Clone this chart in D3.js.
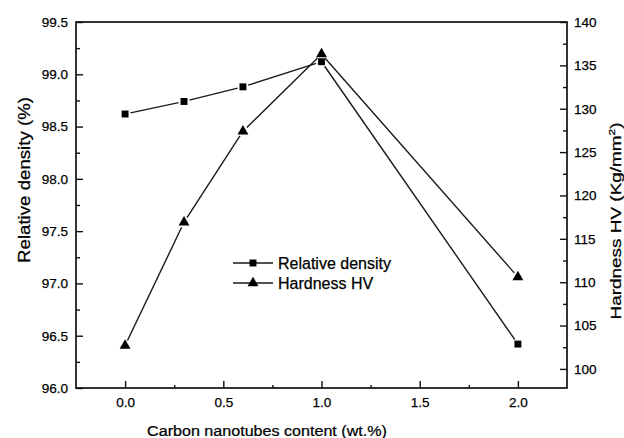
<!DOCTYPE html>
<html>
<head>
<meta charset="utf-8">
<script src="https://cdn.jsdelivr.net/npm/d3@7"></script>
<style>
  body { margin: 0; background: #fff; }
  svg { display: block; font-family: "Liberation Sans", Arial, sans-serif; }
  svg text { fill: #000; stroke: #000; stroke-width: 0.25px; }
  .tick text { font-size: 13.5px; }
</style>
</head>
<body>
<svg id="chart" width="624" height="438"></svg>
<script>
// CNT content (wt.%)
var content = [0.0, 0.3, 0.6, 1.0, 2.0];
// relative density (%), left axis
var density = [98.62, 98.74, 98.88, 99.12, 96.42];
// Vickers hardness (Kg/mm2), right axis
var hardness = [102.7, 116.9, 127.4, 136.3, 110.6];

var xTicks = [0, 0.5, 1.0, 1.5, 2.0];
var yLeftTicks = [96.0, 96.5, 97.0, 97.5, 98.0, 98.5, 99.0, 99.5];
var yRightTicks = [100, 105, 110, 115, 120, 125, 130, 135, 140];
var legendNames = ["Relative density", "Hardness HV"];

(function () {
  var svg = d3.select("#chart");
  var pLeft = 76, pRight = 567, pTop = 22, pBottom = 388;

  var x = d3.scaleLinear().domain([-0.25, 2.25]).range([pLeft, pRight]);
  var yL = d3.scaleLinear().domain([96, 99.5]).range([pBottom, pTop]);
  var yR = d3.scaleLinear().domain([97.8, 140]).range([pBottom, pTop]);

  // minor tick values half way between majors
  function minors(ticks) {
    var out = [];
    for (var i = 0; i < ticks.length - 1; i++) out.push((ticks[i] + ticks[i + 1]) / 2);
    return out;
  }

  function drawAxis(axis, tr) {
    var g = svg.append("g").attr("transform", tr).call(axis);
    g.select(".domain").remove();
    g.selectAll("line").attr("stroke", "#111").attr("stroke-width", 1.4);
    return g;
  }

  // bottom axis
  drawAxis(d3.axisBottom(x).tickValues(xTicks).tickFormat(d3.format(".1f"))
    .tickSizeInner(-7).tickPadding(9), "translate(0," + pBottom + ")");
  drawAxis(d3.axisBottom(x).tickValues(minors(xTicks)).tickFormat("")
    .tickSizeInner(-3), "translate(0," + pBottom + ")");

  // left axis
  drawAxis(d3.axisLeft(yL).tickValues(yLeftTicks).tickFormat(d3.format(".1f"))
    .tickSizeInner(-7).tickPadding(8), "translate(" + pLeft + ",0)");
  drawAxis(d3.axisLeft(yL).tickValues(minors(yLeftTicks)).tickFormat("")
    .tickSizeInner(-4), "translate(" + pLeft + ",0)");

  // right axis
  drawAxis(d3.axisRight(yR).tickValues(yRightTicks).tickFormat(d3.format("d"))
    .tickSizeInner(-7).tickPadding(7), "translate(" + pRight + ",0)");
  drawAxis(d3.axisRight(yR).tickValues(minors(yRightTicks)).tickFormat("")
    .tickSizeInner(-4), "translate(" + pRight + ",0)");

  // frame
  svg.append("rect")
    .attr("x", pLeft).attr("y", pTop)
    .attr("width", pRight - pLeft).attr("height", pBottom - pTop)
    .attr("fill", "none").attr("stroke", "#111").attr("stroke-width", 1.7);

  // axis titles, stretched to the lengths seen in the picture
  function fitTitle(sel, len) {
    return len / sel.node().getComputedTextLength();
  }

  var xt = svg.append("text")
    .attr("text-anchor", "middle")
    .style("font-size", "15.5px")
    .text("Carbon nanotubes content (wt.%)");
  xt.attr("transform", "translate(267,436) scale(" + fitTitle(xt, 240) + ",1)");

  var ylt = svg.append("text")
    .attr("text-anchor", "middle")
    .style("font-size", "16px")
    .text("Relative density (%)");
  ylt.attr("transform", "translate(30,180) rotate(-90) scale(" + fitTitle(ylt, 166) + ",1)");

  var yrt = svg.append("text")
    .attr("text-anchor", "middle")
    .style("font-size", "14.5px");
  yrt.append("tspan").text("Hardness HV (Kg/mm");
  yrt.append("tspan").attr("dy", -6).style("font-size", "9px").text("2");
  yrt.append("tspan").attr("dy", 6).text(")");
  yrt.attr("transform", "translate(621,221) rotate(-90) scale(" + fitTitle(yrt, 197) + ",1)");

  // data lines, with the small gaps around markers
  var gap = 5.5;
  function gappedSegments(xs, ys, yScale) {
    var segs = [];
    for (var i = 0; i < xs.length - 1; i++) {
      var x1 = x(xs[i]), y1 = yScale(ys[i]), x2 = x(xs[i + 1]), y2 = yScale(ys[i + 1]);
      var dx = x2 - x1, dy = y2 - y1, L = Math.sqrt(dx * dx + dy * dy);
      segs.push([x1 + dx / L * gap, y1 + dy / L * gap, x2 - dx / L * gap, y2 - dy / L * gap]);
    }
    return segs;
  }

  var series = [
    { vals: density, scale: yL, sym: d3.symbolSquare, size: 48 },
    { vals: hardness, scale: yR, sym: d3.symbolTriangle, size: 52 }
  ];

  series.forEach(function (s) {
    svg.append("g").selectAll("line")
      .data(gappedSegments(content, s.vals, s.scale))
      .enter().append("line")
      .attr("x1", function (d) { return d[0]; })
      .attr("y1", function (d) { return d[1]; })
      .attr("x2", function (d) { return d[2]; })
      .attr("y2", function (d) { return d[3]; })
      .attr("stroke", "#1a1a1a").attr("stroke-width", 1.4);

    svg.append("g").selectAll("path")
      .data(s.vals)
      .enter().append("path")
      .attr("d", d3.symbol().type(s.sym).size(s.size))
      .attr("transform", function (d, i) { return "translate(" + x(content[i]) + "," + s.scale(d) + ")"; })
      .attr("fill", "#000");
  });

  // legend
  var lg = svg.append("g").attr("transform", "translate(233,263)");
  legendNames.forEach(function (name, i) {
    var row = lg.append("g").attr("transform", "translate(0," + (i * 20) + ")");
    row.append("line").attr("x1", 0).attr("x2", 40).attr("y1", 0).attr("y2", 0)
      .attr("stroke", "#1a1a1a").attr("stroke-width", 1.4);
    row.append("path")
      .attr("d", d3.symbol().type(series[i].sym).size(series[i].size))
      .attr("transform", "translate(20,0)").attr("fill", "#000");
    row.append("text").attr("x", 45).attr("y", 5.5)
      .style("font-size", "16px")
      .text(name);
  });
}());
</script>
</body>
</html>
